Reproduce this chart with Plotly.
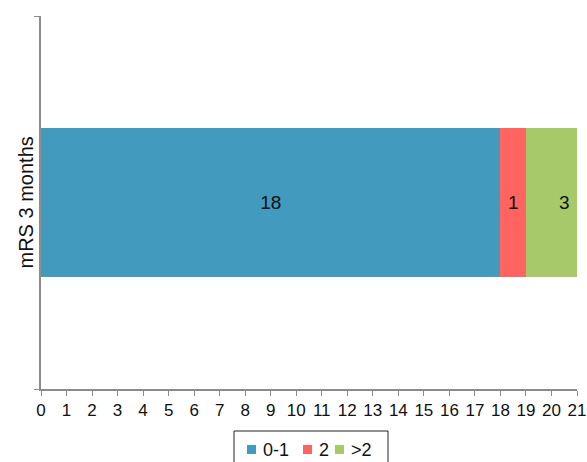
import plotly.graph_objects as go

categories = ["mRS 3 months"]
series_names = ["0-1", "2", ">2"]
values = [18, 1, 3]
colors = ["#429BBE", "#FF6461", "#A8C96A"]
x_ticks = list(range(0, 22))

FONT = "Liberation Sans"
W, H = 587, 462
L, R, T, B = 41, 10, 16, 73
PW, PH = W - L - R, H - T - B


def px(x):
    return (x - L) / PW


def py(y):
    return (H - B - y) / PH


fig = go.Figure()
for name, v, c in zip(series_names, values, colors):
    fig.add_trace(go.Bar(
        y=[0], x=[v], name=name, orientation="h", width=0.4,
        marker=dict(color=c, line=dict(width=0)),
        text=[str(v)], textposition="inside", insidetextanchor="middle",
        textangle=0, constraintext="none",
        textfont=dict(color="#111111", size=19, family=FONT),
    ))

# custom compact legend (box, colour squares, labels)
shapes = [dict(type="rect", xref="paper", yref="paper",
               x0=px(234), x1=px(388), y0=py(475), y1=py(431),
               line=dict(color="#222222", width=1), fillcolor="white", layer="above")]
sq_left = [247, 303, 335]
txt_left = [261, 317, 349]
annotations = []
for name, c, sx, tx in zip(series_names, colors, sq_left, txt_left):
    shapes.append(dict(type="rect", xref="paper", yref="paper",
                       x0=px(sx), x1=px(sx + 9), y0=py(454), y1=py(445),
                       line=dict(width=0), fillcolor=c, layer="above"))
    annotations.append(dict(xref="paper", yref="paper", x=px(tx), y=py(450),
                            xanchor="left", yanchor="middle", showarrow=False,
                            text=name, font=dict(size=18, color="#111111", family=FONT)))

# y-axis title
annotations.append(dict(xref="paper", yref="paper", x=px(38), y=0.5,
                        xanchor="right", yanchor="middle", showarrow=False,
                        textangle=-90, text=categories[0],
                        font=dict(size=20, color="#111111", family=FONT)))

fig.update_layout(
    barmode="stack",
    width=W, height=H,
    margin=dict(l=L, r=R, t=T, b=B, autoexpand=False),
    paper_bgcolor="white", plot_bgcolor="white",
    font=dict(family=FONT, size=17, color="#111111"),
    showlegend=False,
    shapes=shapes,
    annotations=annotations,
    xaxis=dict(range=[0, 21], tickvals=x_ticks, ticktext=[str(t) for t in x_ticks],
               ticks="outside", ticklen=5, tickcolor="#8c8c8c",
               showline=True, linecolor="#8c8c8c", linewidth=1.5,
               showgrid=False, zeroline=False, tickfont=dict(size=17),
               ticklabeloverflow="allow"),
    yaxis=dict(range=[-0.5, 0.5], tickvals=[-0.5, 0.5], ticktext=["", ""],
               ticks="outside", ticklen=5, tickcolor="#8c8c8c",
               showline=True, linecolor="#8c8c8c", linewidth=1.5,
               showgrid=False, zeroline=False),
)

fig.write_html("out.html")
